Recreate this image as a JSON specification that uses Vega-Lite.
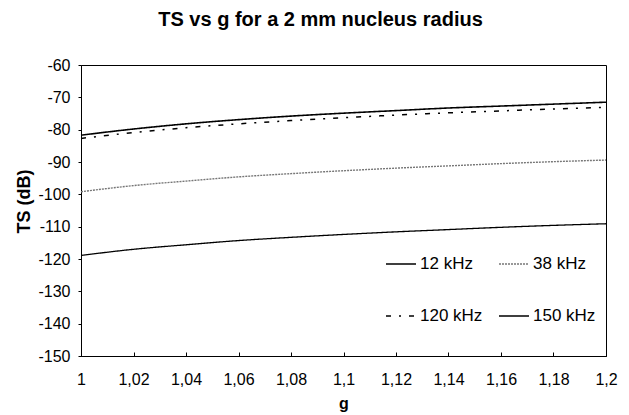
{
  "$schema": "https://vega.github.io/schema/vega-lite/v6.json",
  "width": 525,
  "height": 291,
  "autosize": {"type": "none"},
  "padding": {"left": 81, "top": 65, "right": 23, "bottom": 59},
  "background": "white",
  "config": {
    "view": {"stroke": "#000", "strokeWidth": 1},
    "font": "Liberation Sans",
    "axis": {"grid": false, "domainColor": "#000", "tickColor": "#000", "labelColor": "#000", "titleColor": "#000", "labelFont": "Liberation Sans", "titleFont": "Liberation Sans"}
  },
  "title": {
    "text": "TS vs g for a 2 mm nucleus radius",
    "fontSize": 20,
    "fontWeight": "bold",
    "font": "Liberation Sans",
    "color": "#000",
    "anchor": "middle",
    "baseline": "alphabetic",
    "offset": 11,
    "dx": -23
  },
  "data": {
    "values": [
      {"g": 1.00, "TS": -118.9, "f": "12 kHz"},
      {"g": 1.02, "TS": -117.0, "f": "12 kHz"},
      {"g": 1.04, "TS": -115.6, "f": "12 kHz"},
      {"g": 1.06, "TS": -114.3, "f": "12 kHz"},
      {"g": 1.08, "TS": -113.3, "f": "12 kHz"},
      {"g": 1.10, "TS": -112.4, "f": "12 kHz"},
      {"g": 1.12, "TS": -111.6, "f": "12 kHz"},
      {"g": 1.14, "TS": -110.9, "f": "12 kHz"},
      {"g": 1.16, "TS": -110.2, "f": "12 kHz"},
      {"g": 1.18, "TS": -109.6, "f": "12 kHz"},
      {"g": 1.20, "TS": -109.1, "f": "12 kHz"},
      {"g": 1.00, "TS": -99.2, "f": "38 kHz"},
      {"g": 1.02, "TS": -97.3, "f": "38 kHz"},
      {"g": 1.04, "TS": -95.9, "f": "38 kHz"},
      {"g": 1.06, "TS": -94.6, "f": "38 kHz"},
      {"g": 1.08, "TS": -93.6, "f": "38 kHz"},
      {"g": 1.10, "TS": -92.7, "f": "38 kHz"},
      {"g": 1.12, "TS": -91.9, "f": "38 kHz"},
      {"g": 1.14, "TS": -91.2, "f": "38 kHz"},
      {"g": 1.16, "TS": -90.5, "f": "38 kHz"},
      {"g": 1.18, "TS": -89.9, "f": "38 kHz"},
      {"g": 1.20, "TS": -89.4, "f": "38 kHz"},
      {"g": 1.00, "TS": -82.7, "f": "120 kHz"},
      {"g": 1.02, "TS": -80.9, "f": "120 kHz"},
      {"g": 1.04, "TS": -79.4, "f": "120 kHz"},
      {"g": 1.06, "TS": -78.2, "f": "120 kHz"},
      {"g": 1.08, "TS": -77.2, "f": "120 kHz"},
      {"g": 1.10, "TS": -76.3, "f": "120 kHz"},
      {"g": 1.12, "TS": -75.5, "f": "120 kHz"},
      {"g": 1.14, "TS": -74.8, "f": "120 kHz"},
      {"g": 1.16, "TS": -74.2, "f": "120 kHz"},
      {"g": 1.18, "TS": -73.6, "f": "120 kHz"},
      {"g": 1.20, "TS": -73.1, "f": "120 kHz"},
      {"g": 1.00, "TS": -81.7, "f": "150 kHz"},
      {"g": 1.02, "TS": -79.8, "f": "150 kHz"},
      {"g": 1.04, "TS": -78.2, "f": "150 kHz"},
      {"g": 1.06, "TS": -76.9, "f": "150 kHz"},
      {"g": 1.08, "TS": -75.8, "f": "150 kHz"},
      {"g": 1.10, "TS": -74.9, "f": "150 kHz"},
      {"g": 1.12, "TS": -74.1, "f": "150 kHz"},
      {"g": 1.14, "TS": -73.3, "f": "150 kHz"},
      {"g": 1.16, "TS": -72.7, "f": "150 kHz"},
      {"g": 1.18, "TS": -72.1, "f": "150 kHz"},
      {"g": 1.20, "TS": -71.5, "f": "150 kHz"}
    ]
  },
  "mark": {"type": "line", "interpolate": "monotone"},
  "encoding": {
    "x": {
      "field": "g",
      "type": "quantitative",
      "scale": {"domain": [1, 1.2], "nice": false, "zero": false},
      "axis": {
        "title": "g",
        "titleFontSize": 16,
        "titleFontWeight": "bold",
        "titleY": 52,
        "titleBaseline": "alphabetic",
        "values": [1, 1.02, 1.04, 1.06, 1.08, 1.1, 1.12, 1.14, 1.16, 1.18, 1.2],
        "labelExpr": "replace(format(datum.value, '.2~f'), '.', ',')",
        "labelFontSize": 16,
        "labelPadding": 19,
        "tickSize": -4,
        "labelFlush": false,
        "labelOverlap": false
      }
    },
    "y": {
      "field": "TS",
      "type": "quantitative",
      "scale": {"domain": [-150, -60], "nice": false, "zero": false},
      "axis": {
        "title": "TS (dB)",
        "titleFontSize": 18,
        "titleFontWeight": "bold",
        "titleAngle": -90,
        "titleX": -52,
        "titleY": 136,
        "titleAlign": "center",
        "titleBaseline": "alphabetic",
        "values": [-150, -140, -130, -120, -110, -100, -90, -80, -70, -60],
        "labelExpr": "'' + datum.value",
        "labelFontSize": 16,
        "labelPadding": 8,
        "tickSize": 3,
        "labelFlush": false,
        "labelOverlap": false
      }
    },
    "color": {
      "field": "f",
      "type": "nominal",
      "scale": {"domain": ["12 kHz", "38 kHz", "120 kHz", "150 kHz"], "range": ["#000000", "#777777", "#000000", "#000000"]},
      "legend": {
        "title": null,
        "orient": "none",
        "direction": "horizontal",
        "legendX": 304,
        "legendY": 183,
        "columns": 2,
        "columnPadding": 12,
        "rowPadding": 28,
        "symbolType": "stroke",
        "symbolSize": 900,
        "labelFontSize": 17,
        "labelFont": "Liberation Sans",
        "labelColor": "#000",
        "labelOffset": 3,
        "padding": 0
      }
    },
    "strokeDash": {
      "field": "f",
      "type": "nominal",
      "scale": {"domain": ["12 kHz", "38 kHz", "120 kHz", "150 kHz"], "range": [[1, 0], [2, 1], [5, 8, 2, 8], [1, 0]]}
    },
    "strokeWidth": {
      "field": "f",
      "type": "nominal",
      "scale": {"domain": ["12 kHz", "38 kHz", "120 kHz", "150 kHz"], "range": [1.3, 1.6, 2.7, 3.2]}
    }
  }
}
